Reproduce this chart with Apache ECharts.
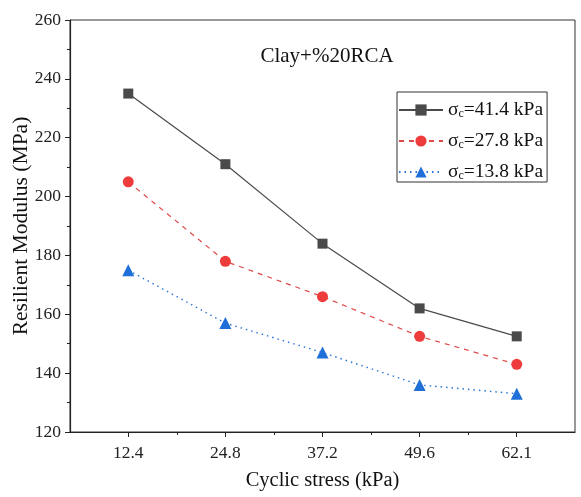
<!DOCTYPE html>
<html>
<head>
<meta charset="utf-8">
<script src="https://cdn.jsdelivr.net/npm/echarts@6/dist/echarts.min.js"></script>
<style>html,body{margin:0;padding:0;background:#fff}#c{width:581px;height:497px}</style>
</head>
<body>
<div id="c"></div>
<script>
var categories = ['12.4', '24.8', '37.2', '49.6', '62.1'];
var seriesNames = ['41.4 kPa', '27.8 kPa', '13.8 kPa'];
var s414 = [235, 211, 184, 162, 152.5];
var s278 = [205, 178, 166, 152.5, 143];
var s138 = [175, 157, 147, 136, 133];
var yTicks = [120, 140, 160, 180, 200, 220, 240, 260];

var FONT = '"Liberation Serif", "Times New Roman", serif';
var pos = categories.map(function (c, i) { return i + 1; });
function toData(arr) { return arr.map(function (v, i) { return [pos[i], v]; }); }
var minorPos = [1.5, 2.5, 3.5, 4.5];

var chart = echarts.init(document.getElementById('c'), null, {renderer: 'canvas'});
var legendRich = {
  a: {fontFamily: FONT, fontSize: 19.5, color: '#111', lineHeight: 20},
  s: {fontFamily: FONT, fontSize: 12, color: '#111', verticalAlign: 'bottom', lineHeight: 20, padding: [10, 0, 0, 0]}
};
chart.setOption({
  animation: false,
  backgroundColor: '#fff',
  title: {
    text: 'Clay+%20RCA', left: 322, top: 41, textAlign: 'center',
    textStyle: {fontFamily: FONT, fontSize: 21, fontWeight: 'normal', color: '#111'}
  },
  grid: {left: 70, right: 6, top: 20, bottom: 65, show: true, borderColor: '#333', borderWidth: 1,
         containLabel: false, outerBoundsMode: 'none'},
  legend: {
    orient: 'vertical', left: 397, top: 92,
    padding: [6, 4, 0, 1], itemGap: 9, itemWidth: 44, itemHeight: 14,
    borderColor: '#333', borderWidth: 1,
    data: seriesNames,
    formatter: function (name) {
      return '{a|σ}{s|c}{a|=' + name + '}';
    },
    textStyle: {rich: legendRich}
  },
  xAxis: [{
    type: 'value', min: 0.4, max: 5.6,
    name: 'Cyclic stress (kPa)', nameLocation: 'middle', nameGap: 38, nameMoveOverlap: false,
    nameTextStyle: {fontFamily: FONT, fontSize: 20.5, color: '#111'},
    axisLine: {lineStyle: {color: '#222', width: 1.2}},
    axisTick: {show: true, length: 5, inside: false, customValues: pos, lineStyle: {color: '#222'}},
    axisLabel: {
      customValues: pos, fontFamily: FONT, fontSize: 17.5, color: '#222', margin: 12,
      formatter: function (v) { return categories[Math.round(v) - 1] || ''; }
    },
    splitLine: {show: false}
  }, {
    type: 'value', min: 0.4, max: 5.6, position: 'bottom', gridIndex: 0,
    axisLine: {show: false},
    axisTick: {show: true, length: 3, customValues: minorPos, lineStyle: {color: '#222'}},
    axisLabel: {show: false, customValues: minorPos},
    splitLine: {show: false}
  }],
  yAxis: {
    type: 'value', min: yTicks[0], max: yTicks[yTicks.length - 1], interval: 20,
    name: 'Resilient Modulus (MPa)', nameLocation: 'middle', nameGap: 38, nameMoveOverlap: false,
    nameTextStyle: {fontFamily: FONT, fontSize: 21.5, color: '#111'},
    axisLine: {show: true, lineStyle: {color: '#222', width: 1.2}},
    axisTick: {show: true, length: 5, lineStyle: {color: '#222'}},
    minorTick: {show: true, splitNumber: 2, length: 3, lineStyle: {color: '#222'}},
    axisLabel: {fontFamily: FONT, fontSize: 17.5, color: '#222', margin: 9},
    splitLine: {show: false}
  },
  series: [{
    name: seriesNames[0], type: 'line', data: toData(s414),
    symbol: 'rect', symbolSize: 10,
    itemStyle: {color: '#4a4a4a'},
    lineStyle: {color: '#4a4a4a', width: 1.2, type: 'solid'}
  }, {
    name: seriesNames[1], type: 'line', data: toData(s278),
    symbol: 'circle', symbolSize: 11,
    itemStyle: {color: '#ee3b3b'},
    lineStyle: {color: '#e04848', width: 1.2, type: [5, 5]}
  }, {
    name: seriesNames[2], type: 'line', data: toData(s138),
    symbol: 'triangle', symbolSize: 12,
    itemStyle: {color: '#1f6fd8'},
    lineStyle: {color: '#2a74d6', width: 1.4, type: [1.5, 4]}
  }]
});
</script>
</body>
</html>
